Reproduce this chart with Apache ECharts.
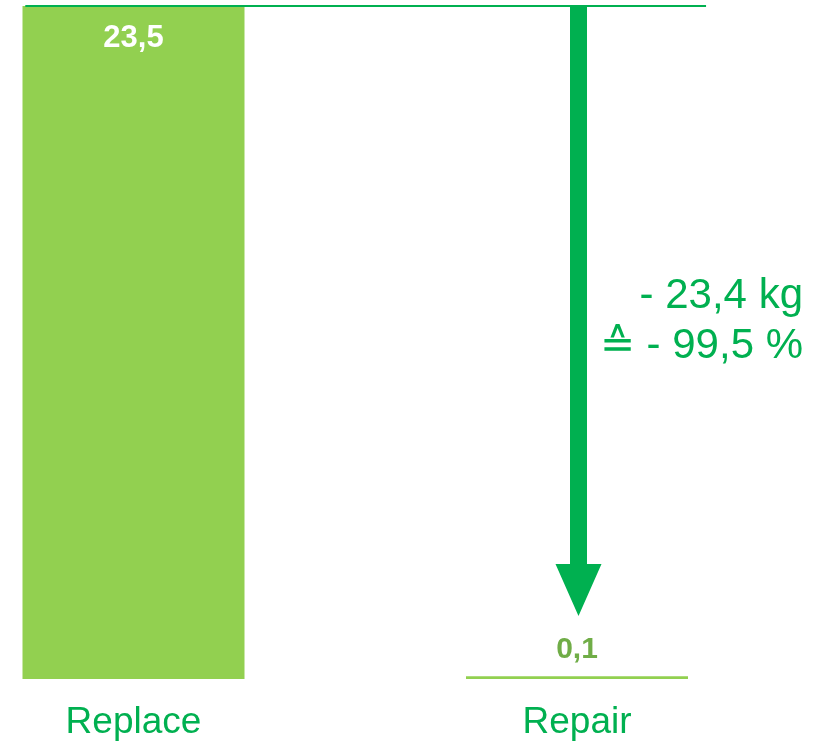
<!DOCTYPE html>
<html>
<head>
<meta charset="utf-8">
<script src="https://cdn.jsdelivr.net/npm/echarts@6/dist/echarts.min.js"></script>
<style>
html,body{margin:0;padding:0;background:#fff;}
#chart{width:833px;height:741px;}
</style>
</head>
<body>
<div id="chart"></div>
<script>
const categories = ['Replace', 'Repair'];
const values = [23.5, 0.1];
const valueLabels = ['23,5', '0,1'];
// reference line at the Replace level, spanning (in category units)
const refLine = [[-0.244, 1.291, 23.5]];
// arrow at the Repair category: from value, to value
const arrow = [[1, 23.5, 2.2]];
const annotation = ['- 23,4 kg', '\u2259 - 99,5 %'];

const FONT = '"Liberation Sans", Arial, sans-serif';
const chart = echarts.init(document.getElementById('chart'), null, {renderer: 'canvas'});

chart.setOption({
  animation: false,
  backgroundColor: '#ffffff',
  grid: {left: 133.5, right: 256, top: 6, bottom: 61, containLabel: false},
  xAxis: [{
    type: 'category',
    data: categories,
    boundaryGap: false,
    axisLine: {show: false},
    axisTick: {show: false},
    splitLine: {show: false},
    axisLabel: {color: '#00b050', fontSize: 37, fontFamily: FONT, margin: 25}
  }, {
    type: 'value', min: 0, max: 1, show: false
  }],
  yAxis: {
    type: 'value', min: 0, max: 23.5, show: false,
    splitLine: {show: false}
  },
  series: [{
    type: 'bar',
    data: values.map((v, i) => ({
      value: v,
      label: i === 0
        ? {show: true, position: 'insideTop', distance: 17, color: '#ffffff', fontSize: 31, fontWeight: 'bold', fontFamily: FONT, formatter: valueLabels[i]}
        : {show: true, position: 'top', distance: 11, color: '#70ad47', fontSize: 30, fontWeight: 'bold', fontFamily: FONT, formatter: valueLabels[i]}
    })),
    barWidth: 222,
    clip: false,
    itemStyle: {color: '#92d050'},
    z: 2
  }, {
    type: 'custom',
    xAxisIndex: 1,
    clip: false,
    z: 3,
    data: refLine,
    renderItem: function (params, api) {
      const a = api.coord([api.value(0), api.value(2)]);
      const b = api.coord([api.value(1), api.value(2)]);
      return {
        type: 'line',
        shape: {x1: a[0], y1: a[1], x2: b[0], y2: b[1]},
        style: {stroke: '#00b050', lineWidth: 2}
      };
    }
  }, {
    type: 'custom',
    xAxisIndex: 1,
    clip: false,
    z: 4,
    data: arrow,
    renderItem: function (params, api) {
      const p0 = api.coord([api.value(0), api.value(1)]);
      const p1 = api.coord([api.value(0), api.value(2)]);
      const x = p0[0] + 1.5;
      const sh = 8.5, hh = 23, hl = 52;
      return {
        type: 'polygon',
        shape: {points: [
          [x - sh, p0[1]], [x + sh, p0[1]], [x + sh, p1[1] - hl], [x + hh, p1[1] - hl],
          [x, p1[1]], [x - hh, p1[1] - hl], [x - sh, p1[1] - hl]
        ]},
        style: {fill: '#00b050'}
      };
    }
  }],
  graphic: [{
    type: 'text',
    x: 803, y: 271,
    style: {
      text: annotation.join('\n'),
      align: 'right',
      verticalAlign: 'top',
      fontSize: 42,
      fontFamily: FONT,
      lineHeight: 50,
      fill: '#00b050'
    }
  }]
});
</script>
</body>
</html>
